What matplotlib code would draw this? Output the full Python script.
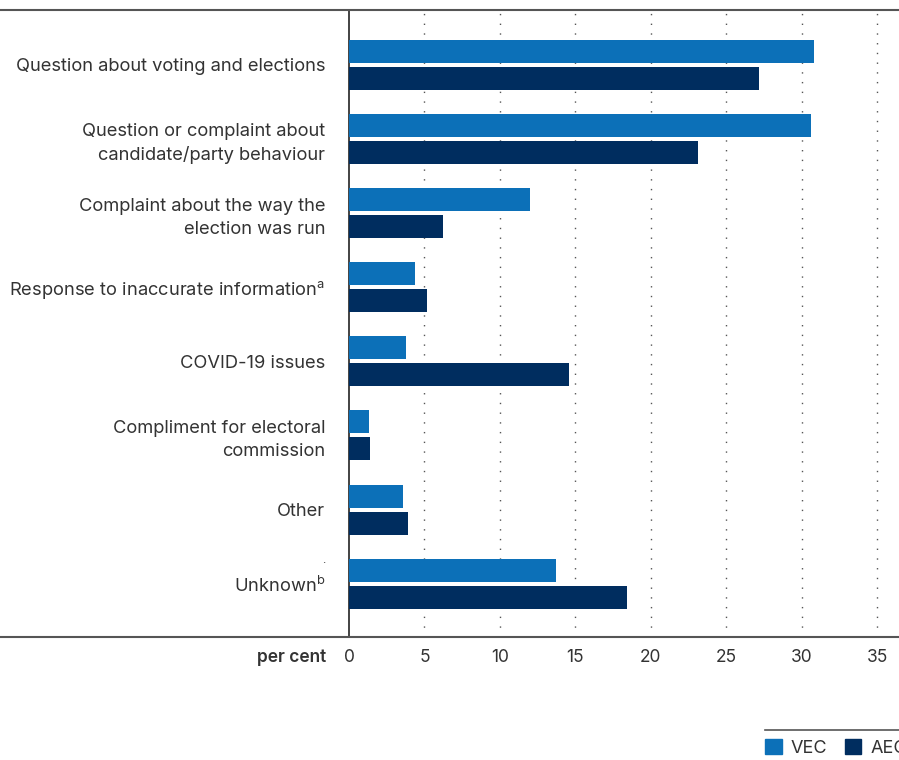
import matplotlib.pyplot as plt
from matplotlib.lines import Line2D
from matplotlib.patches import Patch

plt.rcParams['font.family'] = ['Inter', 'DejaVu Sans']

# data
categories = [
    'Question about voting and elections',
    'Question or complaint about\ncandidate/party behaviour',
    'Complaint about the way the\nelection was run',
    r'Response to inaccurate information$^{\mathregular{a}}$',
    'COVID-19 issues',
    'Compliment for electoral\ncommission',
    'Other',
    r'Unknown$^{\mathregular{b}}$',
]
vec = [30.8, 30.6, 12.0, 4.4, 3.8, 1.3, 3.6, 13.7]
aec = [27.2, 23.1, 6.2, 5.2, 14.6, 1.4, 3.9, 18.4]
ticks = [0, 5, 10, 15, 20, 25, 30, 35]

W, H = 899, 760
c_vec = '#0c70b8'
c_aec = '#002d5f'
txt = '#333333'

fig = plt.figure(figsize=(W / 100, H / 100), dpi=100)
x0, x1, ytop, ybot = 349, 899, 10, 637
ax = fig.add_axes([x0 / W, 1 - ybot / H, (x1 - x0) / W, (ybot - ytop) / H])

ypos = list(range(len(categories)))
off = 0.182
bh = 0.31
ax.barh([y - off for y in ypos], vec, height=bh, color=c_vec, zorder=3, label='VEC')
ax.barh([y + off for y in ypos], aec, height=bh, color=c_aec, zorder=3, label='AEC')

ax.set_xlim(0, (x1 - x0) / 15.09)
ax.set_ylim(7.72, -0.74)

for t in ticks[1:]:
    ax.axvline(t, color='#555555', lw=1, ls=(0, (1, 6)), zorder=1)

ax.set_xticks(ticks)
ax.set_xticklabels([str(t) for t in ticks], fontsize=12.5, color=txt)
ax.tick_params(axis='x', length=0, pad=9)
ax.set_yticks(ypos)
ax.set_yticklabels(categories, fontsize=13.2, color=txt, linespacing=1.42)
ax.tick_params(axis='y', length=0, pad=17)

for s in ['top', 'right', 'bottom']:
    ax.spines[s].set_visible(False)
ax.spines['left'].set_color('#222222')
ax.spines['left'].set_linewidth(1.2)

# full-width rules at top and bottom
for yy in (ytop, ybot):
    fig.add_artist(Line2D([0, 1], [1 - yy / H] * 2, color='#555555', lw=1.5))

fig.text(326 / W, 1 - 657 / H, 'per cent', ha='right', va='center',
         fontsize=12.5, fontweight='semibold', color=txt)
fig.text(324 / W, 1 - 560 / H, '.', ha='center', va='center', fontsize=8, color=txt)

# legend
fig.add_artist(Line2D([765 / W, 1], [1 - 730 / H] * 2, color='#555555', lw=1.2))
handles = [Patch(color=c_vec), Patch(color=c_aec)]
fig.legend(handles, ['VEC', 'AEC'], ncol=2, frameon=False, loc='center left',
           bbox_to_anchor=(749 / W, 1 - 748 / H), fontsize=13,
           handlelength=0.9, handleheight=0.9, handletextpad=0.5,
           columnspacing=1.0, labelcolor=txt)

fig.savefig('out.png', dpi=100)
